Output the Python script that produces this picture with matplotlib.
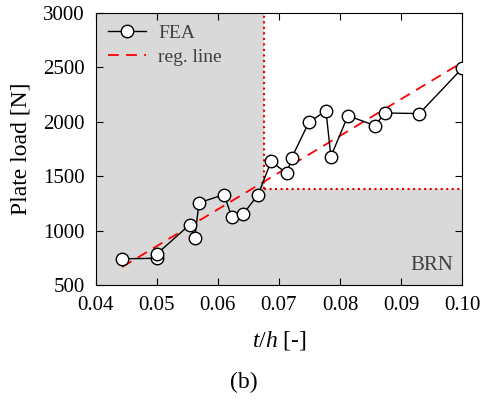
import matplotlib.pyplot as plt
import numpy as np

# FEA results
th = [0.0443, 0.0500, 0.0500, 0.0554, 0.0562, 0.0569, 0.0610, 0.0623, 0.0641,
      0.0666, 0.0687, 0.0713, 0.0721, 0.0749, 0.0777, 0.0785, 0.0813, 0.0857,
      0.0874, 0.0930, 0.1000]
load = [740, 745, 785, 1055, 930, 1255, 1330, 1120, 1150,
        1330, 1635, 1525, 1670, 1995, 2100, 1680, 2055, 1965,
        2080, 2075, 2490]

# regression line end points
reg_x = [0.0443, 0.1000]
reg_y = [665, 2545]

# BRN limits
th_lim = 0.0676
load_lim = 1380

plt.rcParams['font.family'] = ['Liberation Serif', 'DejaVu Serif']
plt.rcParams['mathtext.fontset'] = 'custom'
plt.rcParams['mathtext.it'] = 'Liberation Serif:italic'
plt.rcParams['mathtext.rm'] = 'Liberation Serif'

fig = plt.figure(figsize=(4.89, 4.03), dpi=100)
ax = fig.add_axes([0.196, 0.293, 0.749, 0.675])

grey = '#d9d9d9'
ax.axvspan(0.04, th_lim, color=grey, zorder=0, lw=0)
ax.axhspan(500, load_lim, color=grey, zorder=0, lw=0)
ax.plot([th_lim, th_lim], [load_lim, 3000], ':', color='#e00000', lw=1.5, zorder=1)
ax.plot([th_lim, 0.1], [load_lim, load_lim], ':', color='#e00000', lw=1.5, zorder=1)

ax.plot(th, load, '-o', color='black', lw=1.0, markersize=9,
        markerfacecolor='white', markeredgecolor='black', markeredgewidth=1.0,
        label='FEA', zorder=3)
ax.plot(reg_x, reg_y, '--', color='red', lw=1.3, dashes=(6, 4), label='reg. line', zorder=2)

ax.text(0.0985, 590, 'BRN', fontsize=15, color='#404040', ha='right', va='bottom')

ax.set_xlim(0.04, 0.10)
ax.set_ylim(500, 3000)
ax.set_xticks(np.arange(0.04, 0.1001, 0.01))
ax.set_xticklabels(['0.04', '0.05', '0.06', '0.07', '0.08', '0.09', '0.10'])
ax.set_yticks(np.arange(500, 3001, 500))
ax.tick_params(direction='in', top=True, right=True, labelsize=15, length=5, pad=8)
ax.set_xlabel('$t/h$ [-]', fontsize=17, labelpad=10)
ax.set_ylabel('Plate load [N]', fontsize=17, labelpad=8)

leg = ax.legend(loc='upper left', frameon=False, fontsize=14, handlelength=2.0,
                handletextpad=0.6, borderaxespad=0.2, labelspacing=0.3)
for t in leg.get_texts():
    t.set_color('#404040')

fig.text(0.499, 0.05, '(b)', fontsize=17, ha='center', va='center')

fig.savefig('out.png', dpi=100)
